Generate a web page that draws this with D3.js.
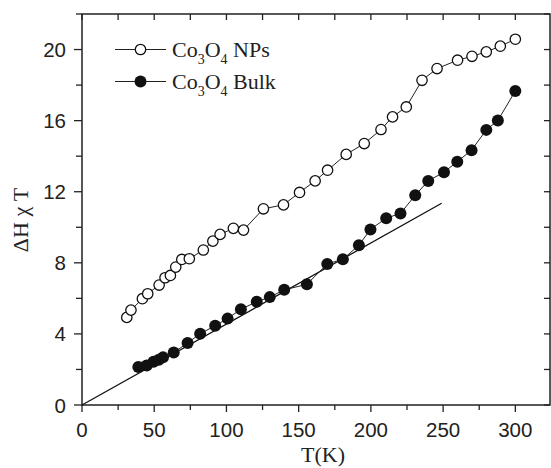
<!DOCTYPE html>
<html>
<head>
<meta charset="utf-8">
<script src="https://cdn.jsdelivr.net/npm/d3@7"></script>
<style>
  body { margin: 0; background: #fff; }
  svg { display: block; }
</style>
</head>
<body>
<div id="chart"></div>
<script>
// NPs series (open circles)
var npT  = [31.0, 33.9, 41.8, 45.5, 53.4, 57.5, 61.2, 64.9, 69.1, 74.3, 84.0, 90.6, 95.6, 104.8, 111.8,
            125.6, 139.5, 150.6, 161.4, 170.0, 182.9, 195.4, 207.0, 215.0, 224.5, 235.4, 245.8, 260.0,
            270.0, 279.9, 289.6, 300.0];
var npY  = [4.93, 5.34, 5.98, 6.26, 6.75, 7.16, 7.29, 7.76, 8.19, 8.23, 8.72, 9.22, 9.60, 9.94, 9.84,
            11.04, 11.26, 11.96, 12.61, 13.21, 14.10, 14.71, 15.50, 16.21, 16.77, 18.27, 18.93, 19.40,
            19.62, 19.87, 20.19, 20.58];

// Bulk series (filled circles)
var bulkT = [39.0, 44.8, 49.5, 53.2, 56.1, 63.5, 73.1, 81.8, 92.2, 100.8, 110.0, 121.0, 130.0, 140.0,
             155.7, 169.8, 180.6, 191.7, 199.7, 210.6, 220.5, 230.7, 239.7, 250.6, 259.8, 269.7, 279.9,
             287.9, 300.0];
var bulkY = [2.14, 2.22, 2.43, 2.55, 2.68, 2.95, 3.49, 4.01, 4.46, 4.86, 5.39, 5.81, 6.07, 6.48,
             6.79, 7.94, 8.20, 8.99, 9.88, 10.51, 10.78, 11.80, 12.61, 13.10, 13.69, 14.34, 15.48,
             16.01, 17.67];

// straight reference line through the origin
var fitT = [0, 249];
var fitY = [0, 11.35];

var xTicks = [0, 50, 100, 150, 200, 250, 300];
var yTicks = [0, 4, 8, 12, 16, 20];

var width = 551, height = 468;
var margin = {left: 82, top: 14, right: 1, bottom: 63};

var svg = d3.select("#chart").append("svg")
    .attr("width", width)
    .attr("height", height);

var x = d3.scaleLinear().domain([0, 324]).range([margin.left, width - margin.right]);
var y = d3.scaleLinear().domain([0, 22]).range([height - margin.bottom, margin.top]);

var axisColor = "#222";
var tickFont = "'Liberation Sans', Arial, sans-serif";
var serif = "'Liberation Serif', 'Times New Roman', serif";

// minor ticks
var xMinor = d3.range(0, 325, 25);
var yMinor = d3.range(0, 23, 2);

var g = svg.append("g");

// bottom (outward)
g.selectAll(".xb").data(xMinor).enter().append("line")
  .attr("x1", function(d) { return x(d); }).attr("x2", function(d) { return x(d); })
  .attr("y1", y(0)).attr("y2", function(d) { return y(0) + (d % 50 === 0 ? 7 : 5); })
  .attr("stroke", axisColor).attr("stroke-width", 1.3);
// top (inward)
g.selectAll(".xt").data(xMinor).enter().append("line")
  .attr("x1", function(d) { return x(d); }).attr("x2", function(d) { return x(d); })
  .attr("y1", y(22)).attr("y2", y(22) + 6)
  .attr("stroke", axisColor).attr("stroke-width", 1.3);
// left (outward)
g.selectAll(".yl").data(yMinor).enter().append("line")
  .attr("y1", function(d) { return y(d); }).attr("y2", function(d) { return y(d); })
  .attr("x1", x(0)).attr("x2", function(d) { return x(0) - (d % 4 === 0 ? 8 : 6); })
  .attr("stroke", axisColor).attr("stroke-width", 1.3);
// right (inward)
g.selectAll(".yr").data(yMinor).enter().append("line")
  .attr("y1", function(d) { return y(d); }).attr("y2", function(d) { return y(d); })
  .attr("x1", x(324)).attr("x2", x(324) - 6)
  .attr("stroke", axisColor).attr("stroke-width", 1.3);

// frame
g.append("rect")
  .attr("x", x(0)).attr("y", y(22))
  .attr("width", x(324) - x(0)).attr("height", y(0) - y(22))
  .attr("fill", "none").attr("stroke", axisColor).attr("stroke-width", 1.5);

// tick labels
g.selectAll(".xl").data(xTicks).enter().append("text")
  .attr("x", function(d) { return x(d); })
  .attr("y", y(0) + 32)
  .attr("text-anchor", "middle")
  .style("font-family", tickFont).style("font-size", "20.5px").attr("fill", "#222")
  .text(function(d) { return d; });

g.selectAll(".yl2").data(yTicks).enter().append("text")
  .attr("x", x(0) - 16)
  .attr("y", function(d) { return y(d) + 7.5; })
  .attr("text-anchor", "end")
  .style("font-family", tickFont).style("font-size", "20.5px").attr("fill", "#222")
  .text(function(d) { return d; });

// axis titles
svg.append("text")
  .attr("x", 323).attr("y", 462)
  .attr("text-anchor", "middle")
  .style("font-family", serif).style("font-size", "22px").attr("fill", "#222")
  .text("T(K)");

svg.append("text")
  .attr("transform", "translate(28,220) rotate(-90)")
  .attr("text-anchor", "middle")
  .style("font-family", serif).style("font-size", "22px").attr("fill", "#222")
  .text("\u0394H \u03c7 T");

// data
var npData = npT.map(function(t, i) { return [t, npY[i]]; });
var bulkData = bulkT.map(function(t, i) { return [t, bulkY[i]]; });
var fitData = fitT.map(function(t, i) { return [t, fitY[i]]; });

var line = d3.line()
  .x(function(d) { return x(d[0]); })
  .y(function(d) { return y(d[1]); });

svg.append("path").datum(fitData)
  .attr("d", line).attr("fill", "none").attr("stroke", "#111").attr("stroke-width", 1.3);

svg.append("path").datum(npData)
  .attr("d", line).attr("fill", "none").attr("stroke", "#222").attr("stroke-width", 1);
svg.append("path").datum(bulkData)
  .attr("d", line).attr("fill", "none").attr("stroke", "#222").attr("stroke-width", 1);

svg.selectAll(".np").data(npData).enter().append("circle")
  .attr("cx", function(d) { return x(d[0]); })
  .attr("cy", function(d) { return y(d[1]); })
  .attr("r", 5.2)
  .attr("fill", "#fff").attr("stroke", "#111").attr("stroke-width", 1.3);

svg.selectAll(".bulk").data(bulkData).enter().append("circle")
  .attr("cx", function(d) { return x(d[0]); })
  .attr("cy", function(d) { return y(d[1]); })
  .attr("r", 6)
  .attr("fill", "#111");

// legend
var legend = svg.append("g");
var legendRows = [{label: " NPs", filled: false, cy: 49.5}, {label: " Bulk", filled: true, cy: 81.5}];
legendRows.forEach(function(row) {
  legend.append("line")
    .attr("x1", 115).attr("x2", 166).attr("y1", row.cy).attr("y2", row.cy)
    .attr("stroke", "#222").attr("stroke-width", 1.2);
  legend.append("circle")
    .attr("cx", 140.5).attr("cy", row.cy)
    .attr("r", row.filled ? 6 : 5.2)
    .attr("fill", row.filled ? "#111" : "#fff")
    .attr("stroke", "#111").attr("stroke-width", row.filled ? 0 : 1.3);
  var t = legend.append("text")
    .attr("x", 172).attr("y", row.cy + 7.5)
    .style("font-family", serif).style("font-size", "22px").attr("fill", "#222");
  t.append("tspan").text("Co");
  t.append("tspan").attr("dy", 7).style("font-size", "14px").text("3");
  t.append("tspan").attr("dy", -7).text("O");
  t.append("tspan").attr("dy", 7).style("font-size", "14px").text("4");
  t.append("tspan").attr("dy", -7).text(row.label);
});
</script>
</body>
</html>
